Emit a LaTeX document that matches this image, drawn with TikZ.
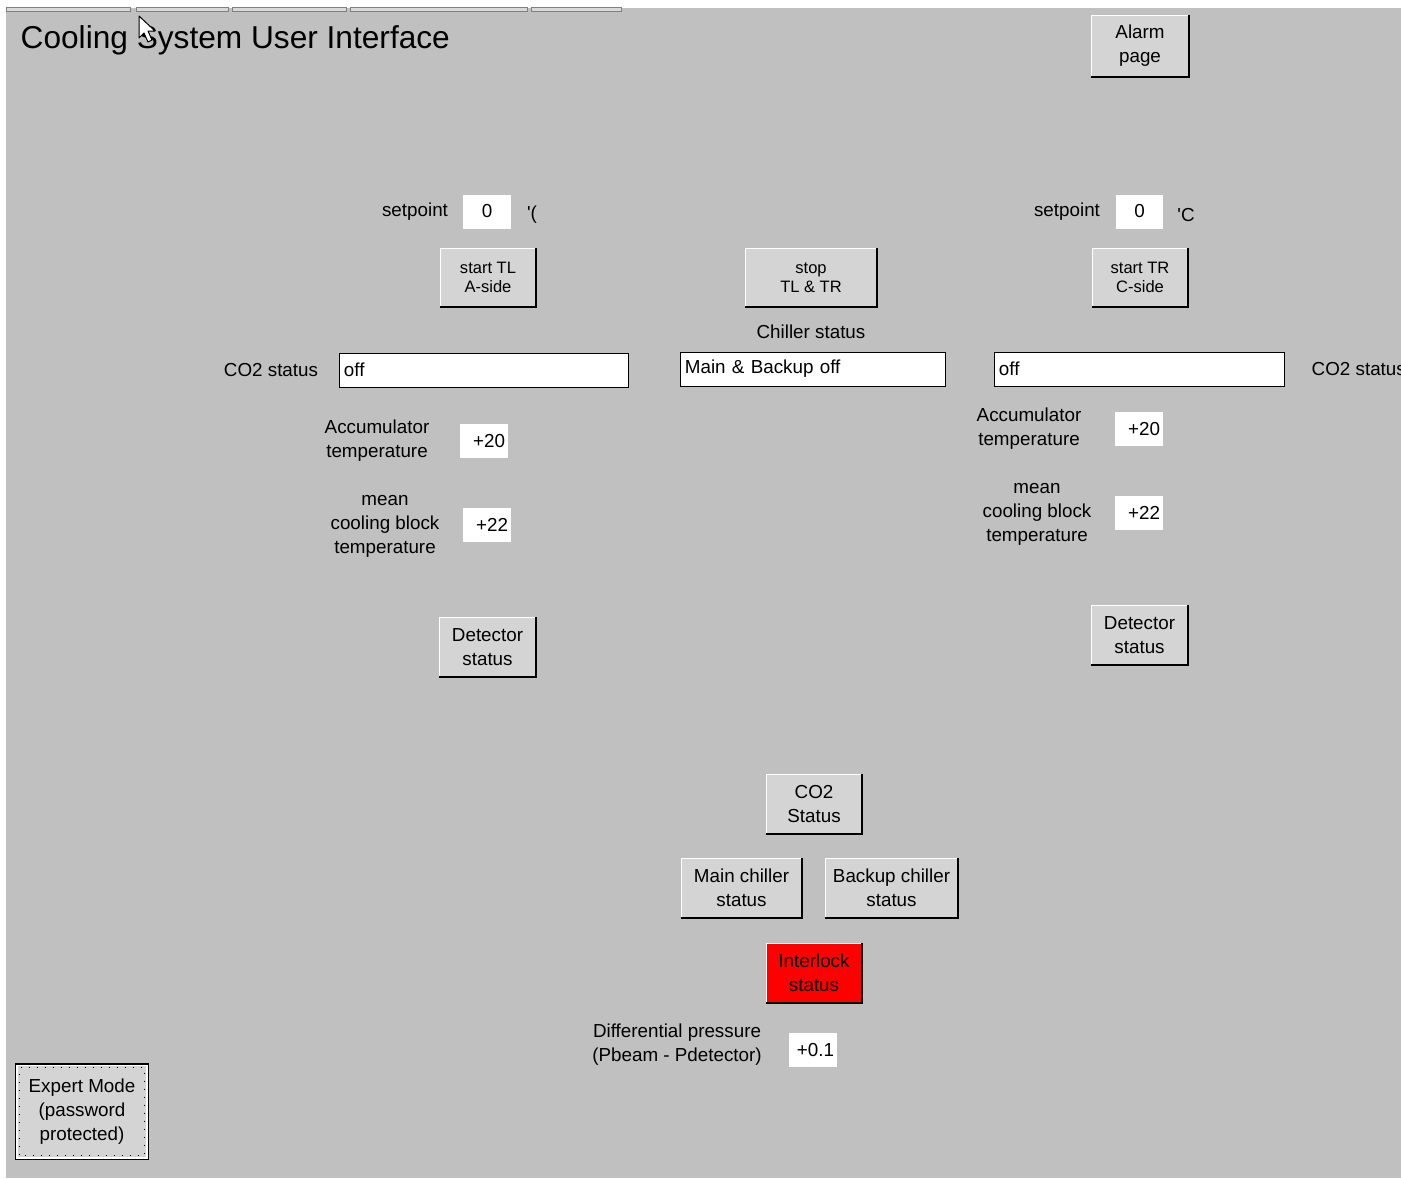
\documentclass[tikz,border=0pt]{standalone}
\usepackage{fontspec}
\setmainfont{Liberation Sans}
\usetikzlibrary{positioning}
\definecolor{panelgray}{HTML}{C0C0C0}
\definecolor{btnface}{HTML}{D4D4D4}
\definecolor{tabgray}{HTML}{D8D8D8}
\definecolor{alarmred}{HTML}{FF0000}
\newcommand{\lbltext}{\fontsize{5.35}{6.8}\selectfont}
\newcommand{\btntext}{\fontsize{4.7}{5.4}\selectfont}
\newcommand{\titletext}{\fontsize{9}{11}\selectfont}

\begin{document}
\begin{tikzpicture}[x=0.01cm,y=-0.01cm,
  lbl/.style={font=\lbltext, align=center, inner sep=0pt, yshift=-0.02cm},
  button/.style={fill=btnface, font=\lbltext, align=center, inner sep=0pt},
  smallbutton/.style={button, font=\btntext},
  wh/.style 2 args={minimum width=#1, minimum height=#2},
  valbox/.style={fill=white, font=\lbltext, inner xsep=0.03cm, inner ysep=0pt,
    text width=0.42cm, align=right, minimum height=0.34cm},
  field/.style={fill=white, draw=black, line width=0.01cm, font=\lbltext,
    align=left, inner xsep=0.04cm, inner ysep=0pt, minimum height=0.34cm}
]
\useasboundingbox (0,0) rectangle (1401,1178);
\begin{scope}
\clip (0,0) rectangle (1401,1178);
\fill[white] (0,0) rectangle (1401,1178);
\fill[panelgray] (6,8) rectangle (1401,1178);

% tab strip
\foreach \a/\b in {6/130,136/228,232/346,350/527,531/621}
  \draw[gray, fill=tabgray, line width=0.01cm] (\a,7) rectangle (\b,11);

% title and pointer
\node[font=\titletext, anchor=west, inner sep=0pt] (title) at (20,40) {Cooling System User Interface};
\draw[black, fill=white, line width=0.01cm, line join=round]
  (139,16) -- (139,38) -- (144,33) -- (148,42) -- (152,40) -- (148,31) -- (155,31) -- cycle;

\node[button, wh={0.96cm}{0.60cm}] (alarm) at (1140,46) {Alarm\\page};

% setpoints
\node[valbox, text width=0.42cm, align=center] (spL) at (487,211.5) {0};
\node[lbl] (spLtxt) at (415,210) {setpoint};
\node[lbl] (degL) at (532,213) {\textquotesingle(};
\node[valbox, text width=0.41cm, align=center] (spR) at (1139.5,211.5) {0};
\node[lbl] (spRtxt) at (1067,210) {setpoint};
\node[lbl] (degR) at (1186,213) {\textquotesingle C};

% start / stop buttons
\node[smallbutton, wh={0.94cm}{0.57cm}] (startTL) at (488,277.5) {start TL\\A-side};
\node[smallbutton, wh={1.30cm}{0.57cm}] (stopT) at (811,277.5) {stop\\TL \& TR};
\node[smallbutton, wh={0.94cm}{0.57cm}] (startTR) at (1140,277.5) {start TR\\C-side};

% status fields
\node[lbl] (chillertxt) at (811,330) {Chiller status};
\node[lbl] (co2Ltxt) at (271,368) {CO2 status};
\node[field, text width=2.80cm] (co2L) at (484,370) {off};
\node[field, text width=2.56cm] (chiller) at (813,369) {Main \& Backup off};
\node[field, text width=2.81cm] (co2R) at (1139.5,369) {off};
\node[lbl, anchor=west] (co2Rtxt) at (1311,367) {CO2 status};

% temperatures, A-side
\node[lbl] (accLtxt) at (377,439) {Accumulator\\temperature};
\node[valbox] (accL) at (484,441) {+20};
\node[lbl] (meanLtxt) at (385,524) {mean\\cooling block\\temperature};
\node[valbox] (meanL) at (487,525) {+22};

% temperatures, C-side
\node[lbl] (accRtxt) at (1029,427) {Accumulator\\temperature};
\node[valbox] (accR) at (1139,429) {+20};
\node[lbl] (meanRtxt) at (1037,512) {mean\\cooling block\\temperature};
\node[valbox] (meanR) at (1139,513) {+22};

% detector buttons
\node[button, wh={0.95cm}{0.58cm}] (detL) at (487.5,647) {Detector\\status};
\node[button, wh={0.95cm}{0.58cm}] (detR) at (1139.5,635) {Detector\\status};

% chiller group
\node[button, wh={0.94cm}{0.58cm}] (co2btn) at (814,804) {CO2\\Status};
\node[button, wh={1.19cm}{0.58cm}] (mainch) at (741.5,888) {Main chiller\\status};
\node[button, wh={1.31cm}{0.58cm}] (backch) at (891.5,888) {Backup chiller\\status};
\node[button, fill=alarmred, wh={0.94cm}{0.58cm}] (interlock) at (814,973) {Interlock\\status};

\node[lbl] (dptxt) at (677,1043) {Differential pressure\\(Pbeam - Pdetector)};
\node[valbox] (dp) at (813,1049.5) {+0.1};

% bevels
\foreach \b in {alarm,startTL,stopT,startTR,detL,detR,co2btn,mainch,backch,interlock} {
  \draw[white, line width=0.015cm] (\b.south west) |- (\b.north east);
  \draw[black, line width=0.02cm] (\b.south west) -| (\b.north east);
}

% expert mode
\node[button, wh={1.32cm}{0.95cm}, draw=black, line width=0.025cm] (expert) at (82,1111.5) {Expert Mode\\(password\\protected)};
\draw[white, line width=0.015cm] ([xshift=0.025cm,yshift=0.025cm]expert.south west) rectangle ([xshift=-0.025cm,yshift=-0.025cm]expert.north east);
\draw[dotted, line width=0.01cm] ([xshift=0.05cm,yshift=0.05cm]expert.south west) rectangle ([xshift=-0.05cm,yshift=-0.05cm]expert.north east);
\end{scope}
\end{tikzpicture}
\end{document}
